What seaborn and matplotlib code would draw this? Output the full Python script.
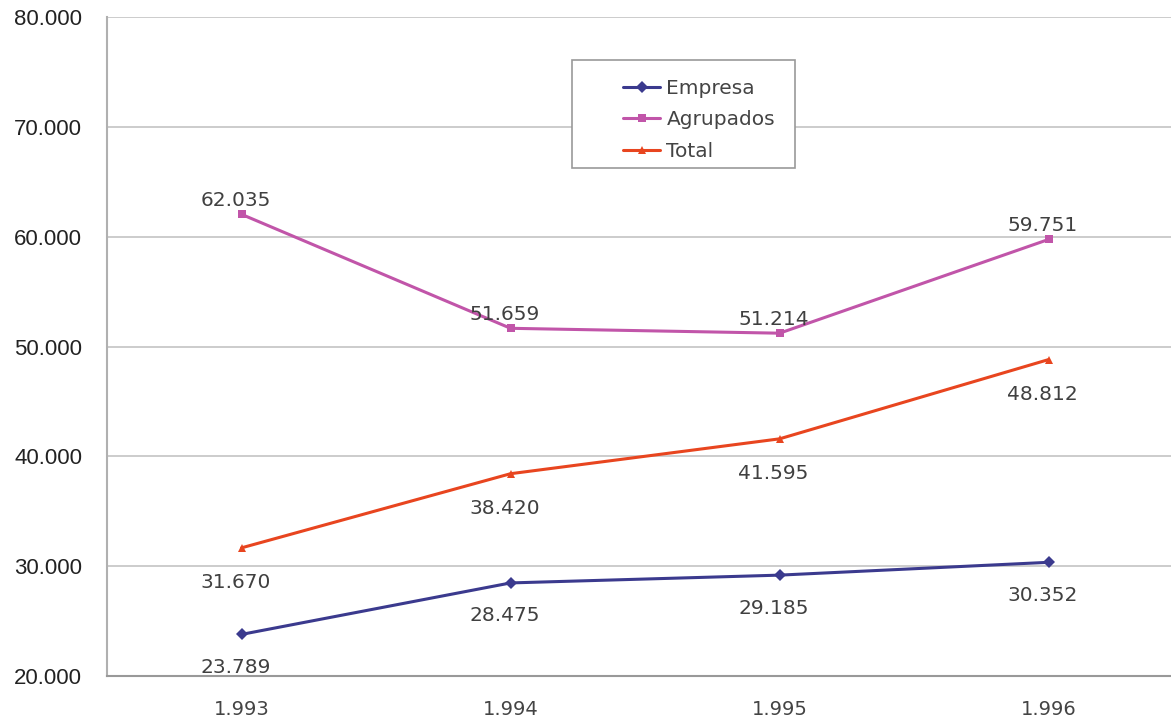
import numpy as np
import pandas as pd
import seaborn as sns
from matplotlib import pyplot as plt
from matplotlib.patches import Rectangle

years = ['1.993', '1.994', '1.995', '1.996']
empresa = [23789, 28475, 29185, 30352]
agrupados = [62035, 51659, 51214, 59751]
total = [31670, 38420, 41595, 48812]
series_names = ['Empresa', 'Agrupados', 'Total']
colores = ['#3b3a8e', '#c155a9', '#e8451f']

df = pd.DataFrame({
    'anio': list(range(len(years))) * 3,
    'valor': empresa + agrupados + total,
    'serie': np.repeat(series_names, len(years)),
})

sns.set_style('white')
plt.rcParams['font.family'] = ['DejaVu Sans']

fig = plt.figure(figsize=(11.71, 7.22), dpi=100)
ax = fig.add_axes([0.0914, 0.0637, 0.9086, 0.9127])

sns.lineplot(data=df, x='anio', y='valor', hue='serie', style='serie',
             palette=colores, markers=['D', 's', '^'], dashes=False,
             markersize=6, linewidth=2.2, markeredgewidth=0, ax=ax)

# etiquetas de datos
offsets = {'Empresa': -33, 'Agrupados': 14, 'Total': -35}
for nombre, vals in zip(series_names, [empresa, agrupados, total]):
    for i, v in enumerate(vals):
        txt = f'{v:,}'.replace(',', '.')
        ax.annotate(txt, (i, v), xytext=(-6, offsets[nombre]),
                    textcoords='offset pixels', ha='center', va='center',
                    fontsize=14.5, color='#404040')

ax.set_xlim(-0.5, 3.455)
ax.set_ylim(20000, 80000)
ax.set_yticks(range(20000, 80001, 10000))
ax.set_yticklabels([f'{t:,}'.replace(',', '.') for t in range(20000, 80001, 10000)],
                   fontsize=16, family='Liberation Sans', color='#222222')
ax.set_xticks(range(len(years)))
ax.set_xticklabels(years, fontsize=14, color='#444444')
ax.set_xticks([0.5, 1.5, 2.5], minor=True)
ax.tick_params(axis='x', which='major', length=0, pad=17)
ax.tick_params(axis='x', which='minor', length=6, color='#999999', direction='out')
ax.tick_params(axis='y', length=8, color='#999999', direction='out', pad=10)
ax.set_xlabel('')
ax.set_ylabel('')

ax.grid(axis='y', color='#c4c4c4', linewidth=1.2)
ax.grid(axis='x', visible=False)
for s in ['top', 'right']:
    ax.spines[s].set_visible(False)
ax.spines['left'].set_color('#b0b0b0')
ax.spines['bottom'].set_color('#999999')
ax.spines['left'].set_linewidth(1.5)
ax.spines['bottom'].set_linewidth(1.5)

# recuadro de la leyenda (con margen izquierdo amplio como en el original)
ax.add_patch(Rectangle((0.437, 0.771), 0.21, 0.164, transform=ax.transAxes,
                       facecolor='white', edgecolor='#999999', linewidth=1.2,
                       zorder=4))
leg = ax.legend(loc='upper left', bbox_to_anchor=(0.485, 0.906), fontsize=14.5,
                frameon=False, handlelength=1.85, handletextpad=0.3,
                borderpad=0, labelspacing=0.62, borderaxespad=0)
leg.set_zorder(5)
for t in leg.get_texts():
    t.set_color('#444444')

fig.savefig('out.png', dpi=100)
